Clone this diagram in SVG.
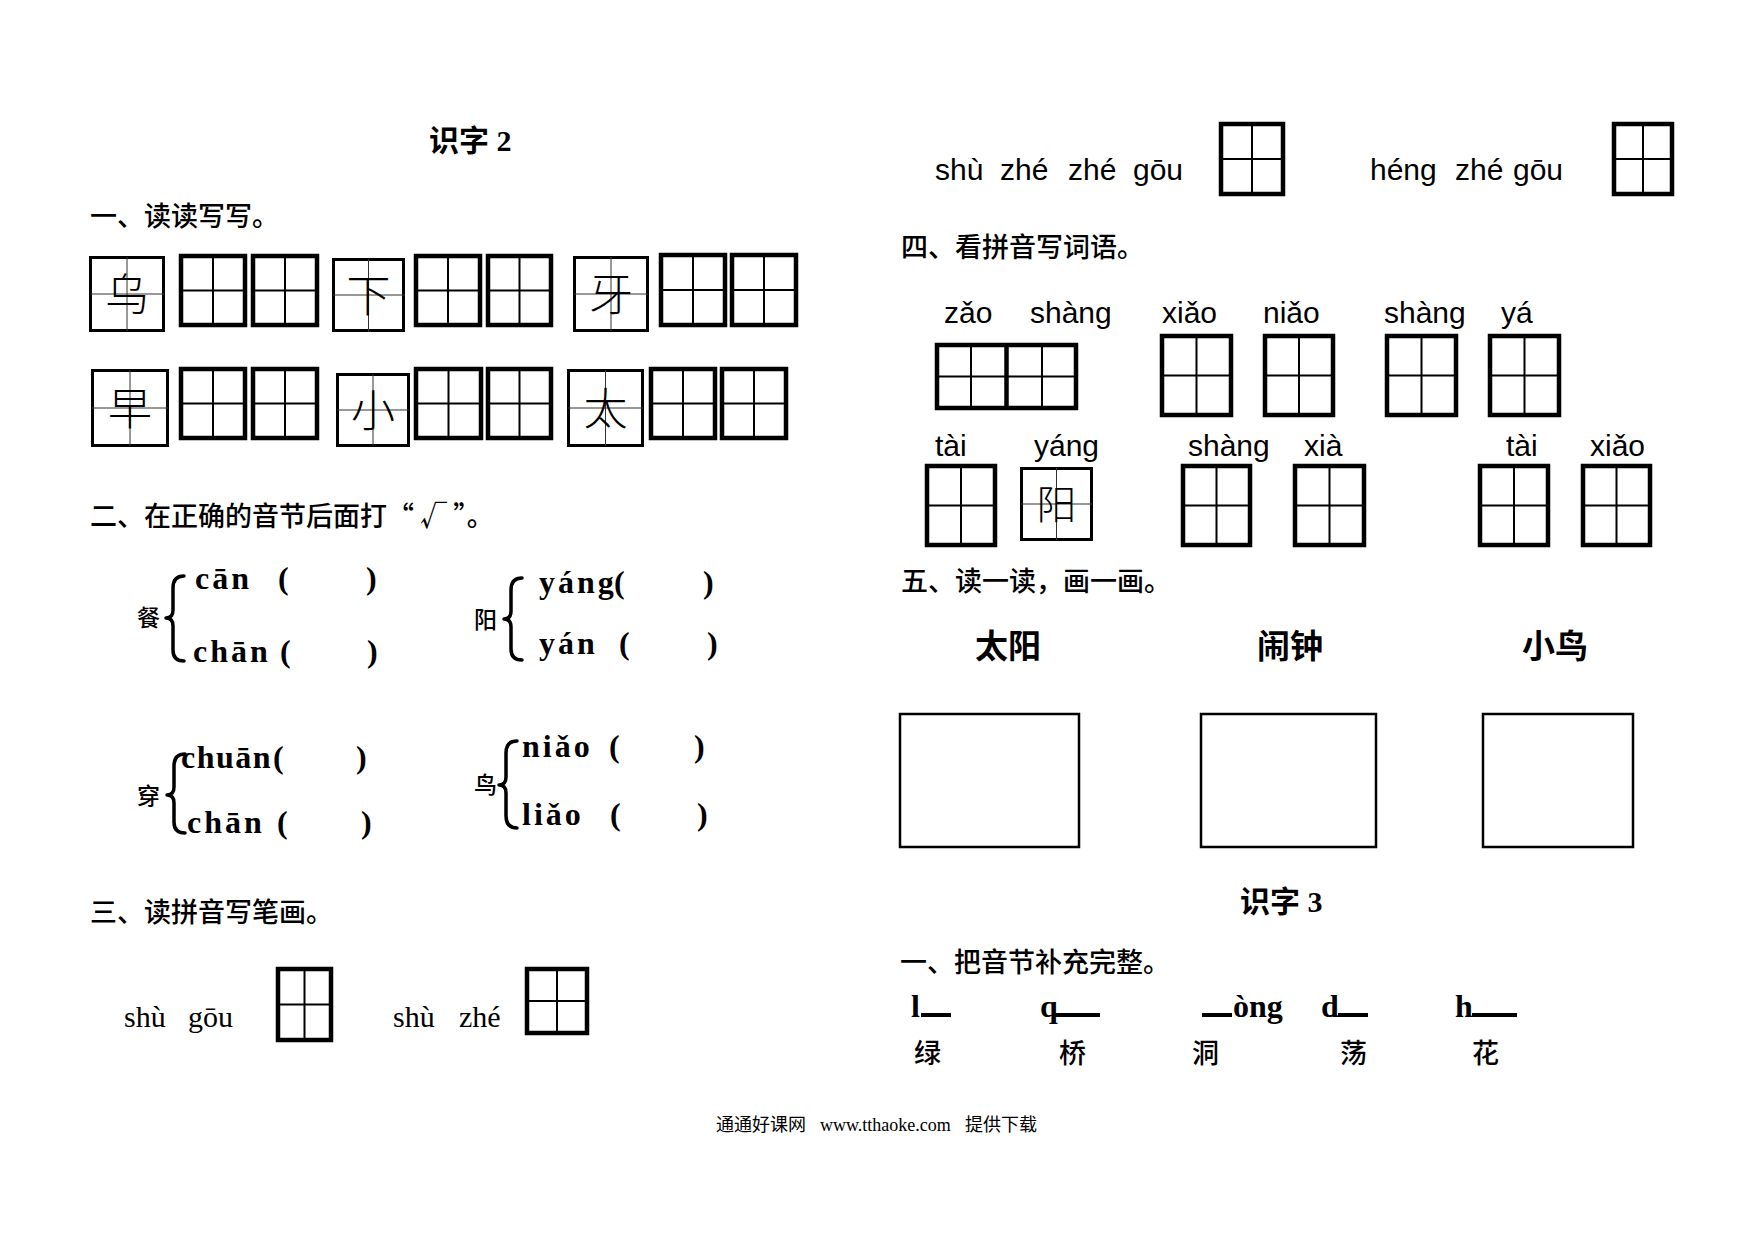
<svg xmlns="http://www.w3.org/2000/svg" width="1754" height="1240" viewBox="0 0 1754 1240">
<style>
.bg{fill:#fff}
.tk{fill:none;stroke:#000;stroke-width:4.5}
.ti{fill:none;stroke:#000;stroke-width:2}
.tn{fill:none;stroke:#000;stroke-width:3}
.tc{fill:none;stroke:#333;stroke-width:1}
.dr{fill:none;stroke:#000;stroke-width:2.5}
.br{fill:none;stroke:#000;stroke-width:3.5;stroke-linecap:round;stroke-linejoin:round}
.ul{fill:#000}
.h{font-family:"Noto Sans CJK SC",sans-serif;font-size:27px;font-weight:500;fill:#000}
.ttl{font-family:"Liberation Serif","Noto Sans CJK SC",serif;font-size:30px;font-weight:bold;fill:#000}
.bc{font-family:"Noto Sans CJK SC",sans-serif;font-size:44px;font-weight:300;fill:#000;text-anchor:middle}
.sc{font-family:"Noto Sans CJK SC",sans-serif;font-size:23px;font-weight:500;fill:#000}
.ps{font-family:"Liberation Serif",serif;font-size:32px;font-weight:bold;letter-spacing:3px;fill:#000}
.pa{font-family:"Liberation Sans",sans-serif;font-size:30px;fill:#000}
.pt{font-family:"Liberation Serif",serif;font-size:30px;fill:#000}
.lt{font-family:"Liberation Serif",serif;font-size:32px;font-weight:bold;fill:#000}
.hb{font-family:"Noto Sans CJK SC",sans-serif;font-size:33px;font-weight:bold;fill:#000}
.ft{font-family:"Liberation Serif","Noto Sans CJK SC",serif;font-size:18px;fill:#000}
</style>
<rect class="bg" x="0" y="0" width="1754" height="1240"/>

<g id="title2">
<text class="ttl" x="429" y="151">识字 2</text>
</g>

<g id="ex1">
<text class="h" x="90" y="226">一、读读写写。</text>
<g id="ex1-chars">
<rect class="tn" x="90.5" y="257.5" width="73" height="73"/>
<path class="tc" d="M127 257V331M90 294H164"/>
<text class="bc" x="127" y="311">乌</text>
<rect class="tn" x="333.5" y="259.5" width="70" height="71"/>
<path class="tc" d="M368.5 259V332M333 295H405"/>
<text class="bc" x="368.5" y="312">下</text>
<rect class="tn" x="574.5" y="257.5" width="73" height="73"/>
<path class="tc" d="M611 257V331M574 294H648"/>
<text class="bc" x="611" y="311">牙</text>
<rect class="tn" x="92.5" y="370.5" width="75" height="75"/>
<path class="tc" d="M130 370V446M92 408H168"/>
<text class="bc" x="130" y="425">早</text>
<rect class="tn" x="337.5" y="374.5" width="71" height="71"/>
<path class="tc" d="M373 374V446M337 410H409"/>
<text class="bc" x="373" y="427">小</text>
<rect class="tn" x="568.5" y="370.5" width="74" height="75"/>
<path class="tc" d="M605.5 370V446M568 408H643"/>
<text class="bc" x="605.5" y="425">太</text>
</g>
<g id="ex1-grids">
<rect class="tk" x="181" y="256" width="64" height="69"/><path class="ti" d="M213 256V325M181 290.5H245"/>
<rect class="tk" x="253" y="256" width="64" height="69"/><path class="ti" d="M285 256V325M253 290.5H317"/>
<rect class="tk" x="416" y="256" width="64" height="69"/><path class="ti" d="M448 256V325M416 290.5H480"/>
<rect class="tk" x="488" y="256" width="63" height="69"/><path class="ti" d="M519.5 256V325M488 290.5H551"/>
<rect class="tk" x="661" y="255" width="64" height="70"/><path class="ti" d="M693 255V325M661 290H725"/>
<rect class="tk" x="732" y="255" width="64" height="70"/><path class="ti" d="M764 255V325M732 290H796"/>
<rect class="tk" x="181" y="369" width="64" height="69"/><path class="ti" d="M213 369V438M181 403.5H245"/>
<rect class="tk" x="253" y="369" width="64" height="69"/><path class="ti" d="M285 369V438M253 403.5H317"/>
<rect class="tk" x="416" y="369" width="65" height="69"/><path class="ti" d="M448.5 369V438M416 403.5H481"/>
<rect class="tk" x="488" y="369" width="63" height="69"/><path class="ti" d="M519.5 369V438M488 403.5H551"/>
<rect class="tk" x="651" y="369" width="64" height="69"/><path class="ti" d="M683 369V438M651 403.5H715"/>
<rect class="tk" x="722" y="369" width="64" height="69"/><path class="ti" d="M754 369V438M722 403.5H786"/>
</g>
</g>

<g id="ex2">
<text class="h" x="90" y="526">二、在正确的音节后面打“ √ ”。</text>
<g id="ex2-can">
<text class="sc" x="137" y="626">餐</text>
<path class="br" d="M184 576Q173 576 173 588V610Q173 618 166 618Q173 618 173 626V650Q173 661 184 661"/>
<text class="ps" x="195" y="589">cān</text><text class="ps" x="278" y="589">(</text><text class="ps" x="366" y="589">)</text>
<text class="ps" x="193" y="662">chān</text><text class="ps" x="280" y="662">(</text><text class="ps" x="367" y="662">)</text>
</g>
<g id="ex2-yang">
<text class="sc" x="474" y="628">阳</text>
<path class="br" d="M522 578Q511 578 511 590V611Q511 619 504 619Q511 619 511 627V649Q511 660 522 660"/>
<text class="ps" x="539" y="593">yáng</text><text class="ps" x="614" y="593">(</text><text class="ps" x="703" y="593">)</text>
<text class="ps" x="539" y="654">yán</text><text class="ps" x="619" y="654">(</text><text class="ps" x="707" y="654">)</text>
</g>
<g id="ex2-chuan">
<text class="sc" x="137" y="804">穿</text>
<path class="br" d="M185 754Q174 754 174 766V787Q174 795 167 795Q174 795 174 803V822Q174 833 185 833"/>
<text class="ps" x="181" y="768" style="letter-spacing:1.5px">chuān</text><text class="ps" x="273" y="768">(</text><text class="ps" x="356" y="768">)</text>
<text class="ps" x="187" y="833">chān</text><text class="ps" x="277" y="833">(</text><text class="ps" x="361" y="833">)</text>
</g>
<g id="ex2-niao">
<text class="sc" x="474" y="793">鸟</text>
<path class="br" d="M517 741Q506 741 506 753V777Q506 785 499 785Q506 785 506 793V816Q506 828 517 828"/>
<text class="ps" x="522" y="757">niǎo</text><text class="ps" x="609" y="757">(</text><text class="ps" x="694" y="757">)</text>
<text class="ps" x="522" y="825">liǎo</text><text class="ps" x="610" y="825">(</text><text class="ps" x="697" y="825">)</text>
</g>
</g>

<g id="ex3">
<text class="h" x="90" y="922">三、读拼音写笔画。</text>
<text class="pt" x="124" y="1027">shù</text><text class="pt" x="188" y="1027">gōu</text>
<rect class="tk" x="278" y="969" width="53" height="71"/><path class="ti" d="M304.5 969V1040M278 1004.5H331"/>
<text class="pt" x="393" y="1027">shù</text><text class="pt" x="459" y="1027">zhé</text>
<rect class="tk" x="527" y="969" width="60" height="64"/><path class="ti" d="M557 969V1033M527 1001H587"/>
</g>

<g id="ex3-cont">
<text class="pa" x="935" y="180">shù</text><text class="pa" x="1000" y="180">zhé</text><text class="pa" x="1068" y="180">zhé</text><text class="pa" x="1133" y="180">gōu</text>
<rect class="tk" x="1221" y="124" width="62" height="70"/><path class="ti" d="M1252 124V194M1221 159H1283"/>
<text class="pa" x="1370" y="180">héng</text><text class="pa" x="1455" y="180">zhé</text><text class="pa" x="1513" y="180">gōu</text>
<rect class="tk" x="1614" y="124" width="58" height="70"/><path class="ti" d="M1643 124V194M1614 159H1672"/>
</g>

<g id="ex4">
<text class="h" x="901" y="257">四、看拼音写词语。</text>
<g id="ex4-row1">
<text class="pa" x="944" y="323">zǎo</text><text class="pa" x="1030" y="323">shàng</text>
<text class="pa" x="1162" y="323">xiǎo</text><text class="pa" x="1263" y="323">niǎo</text>
<text class="pa" x="1384" y="323">shàng</text><text class="pa" x="1501" y="323">yá</text>
<rect class="tk" x="937" y="345" width="139" height="63"/><path class="tk" d="M1006.5 345V408"/><path class="ti" d="M971 345V408M1042 345V408M937 376.5H1076"/>
<rect class="tk" x="1162" y="336" width="69" height="79"/><path class="ti" d="M1196.5 336V415M1162 375.5H1231"/>
<rect class="tk" x="1265" y="336" width="68" height="79"/><path class="ti" d="M1299 336V415M1265 375.5H1333"/>
<rect class="tk" x="1387" y="336" width="69" height="79"/><path class="ti" d="M1421.5 336V415M1387 375.5H1456"/>
<rect class="tk" x="1490" y="336" width="69" height="79"/><path class="ti" d="M1524.5 336V415M1490 375.5H1559"/>
</g>
<g id="ex4-row2">
<text class="pa" x="935" y="456">tài</text><text class="pa" x="1034" y="456">yáng</text>
<text class="pa" x="1188" y="456">shàng</text><text class="pa" x="1304" y="456">xià</text>
<text class="pa" x="1506" y="456">tài</text><text class="pa" x="1590" y="456">xiǎo</text>
<rect class="tk" x="927" y="466" width="68" height="79"/><path class="ti" d="M961 466V545M927 505.5H995"/>
<rect class="tn" x="1021.5" y="468.5" width="70" height="71"/><path class="tc" d="M1056.5 468V540M1021 504H1092"/>
<text class="bc" x="1056.5" y="519" style="font-size:40px">阳</text>
<rect class="tk" x="1183" y="466" width="67" height="79"/><path class="ti" d="M1216.5 466V545M1183 505.5H1250"/>
<rect class="tk" x="1295" y="466" width="69" height="79"/><path class="ti" d="M1329.5 466V545M1295 505.5H1364"/>
<rect class="tk" x="1480" y="466" width="68" height="79"/><path class="ti" d="M1514 466V545M1480 505.5H1548"/>
<rect class="tk" x="1583" y="466" width="67" height="79"/><path class="ti" d="M1616.5 466V545M1583 505.5H1650"/>
</g>
</g>

<g id="ex5">
<text class="h" x="901" y="591">五、读一读，画一画。</text>
<text class="hb" x="975" y="658">太阳</text>
<text class="hb" x="1257" y="658">闹钟</text>
<text class="hb" x="1522" y="658">小鸟</text>
<rect class="dr" x="900" y="714" width="179" height="133"/>
<rect class="dr" x="1201" y="714" width="175" height="133"/>
<rect class="dr" x="1483" y="714" width="150" height="133"/>
</g>

<g id="title3">
<text class="ttl" x="1240" y="912">识字 3</text>
</g>

<g id="s3ex1">
<text class="h" x="900" y="972">一、把音节补充完整。</text>
<text class="lt" x="911" y="1017">l</text><rect class="ul" x="921" y="1013" width="30" height="4"/>
<text class="lt" x="1040" y="1017">q</text><rect class="ul" x="1055" y="1013" width="45" height="4"/>
<rect class="ul" x="1202" y="1013" width="30" height="4"/><text class="lt" x="1233" y="1017">òng</text>
<text class="lt" x="1321" y="1017">d</text><rect class="ul" x="1338" y="1013" width="30" height="4"/>
<text class="lt" x="1455" y="1017">h</text><rect class="ul" x="1472" y="1013" width="45" height="4"/>
<text class="h" x="914" y="1063">绿</text>
<text class="h" x="1059" y="1063">桥</text>
<text class="h" x="1192" y="1063">洞</text>
<text class="h" x="1340" y="1063">荡</text>
<text class="h" x="1472" y="1063">花</text>
</g>

<g id="footer">
<text class="ft" x="716" y="1131">通通好课网</text>
<text class="ft" x="820" y="1131">www.tthaoke.com</text>
<text class="ft" x="965" y="1131">提供下载</text>
</g>
</svg>
